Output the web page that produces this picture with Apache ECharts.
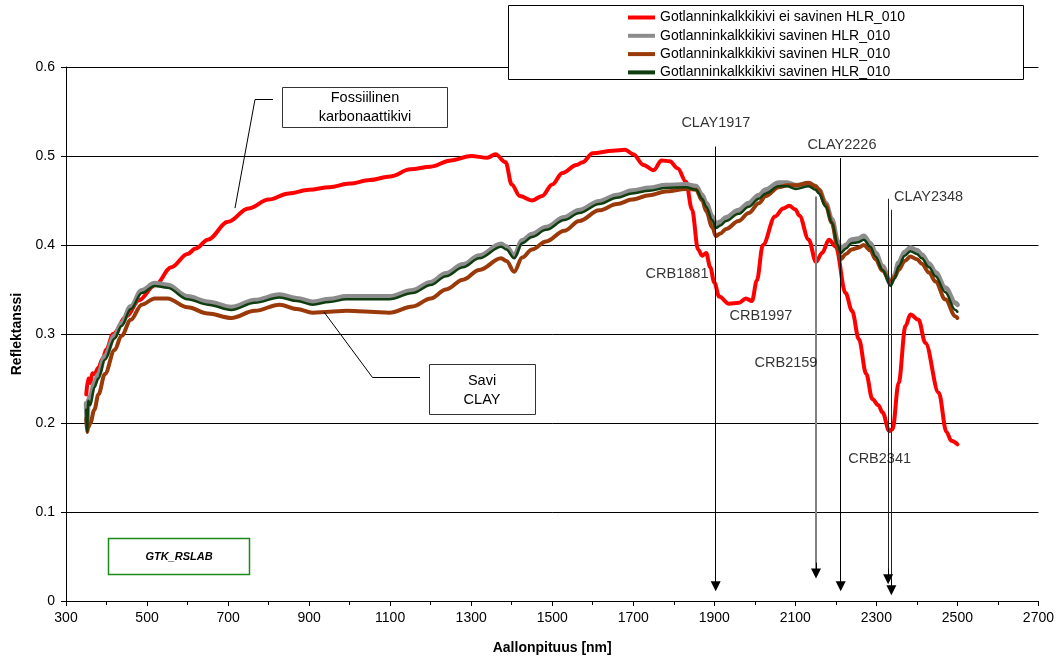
<!DOCTYPE html>
<html>
<head>
<meta charset="utf-8">
<script src="https://cdn.jsdelivr.net/npm/echarts@6/dist/echarts.min.js"></script>
<style>
html,body{margin:0;padding:0;background:#fff;}
#chart{width:1057px;height:660px;}
</style>
</head>
<body>
<div id="chart"></div>
<script>
// ---- data ----
const seriesNames = [
  'Gotlanninkalkkikivi ei savinen HLR_010',
  'Gotlanninkalkkikivi savinen HLR_010',
  'Gotlanninkalkkikivi savinen HLR_010 ',
  'Gotlanninkalkkikivi savinen HLR_010  '
];
const wavelengthRed = [350,355,360,365,370,380,390,400,416,450,480,520,560,600,620,650,700,750,800,850,900,950,1000,1050,1100,1150,1200,1250,1300,1340,1360,1385,1400,1420,1450,1475,1500,1525,1560,1575,1600,1650,1680,1700,1725,1750,1770,1790,1810,1830,1845,1860,1870,1880,1890,1900,1912,1936,1961,1978,1993,2005,2020,2050,2070,2085,2100,2110,2133,2151,2166,2183,2200,2224,2240,2257,2275,2290,2305,2315,2332,2340,2355,2372,2384,2404,2421,2454,2473,2485,2500];
const reflRed = [0.232,0.250,0.245,0.256,0.255,0.262,0.272,0.283,0.300,0.320,0.338,0.355,0.375,0.390,0.396,0.406,0.426,0.441,0.451,0.458,0.462,0.465,0.469,0.473,0.477,0.485,0.488,0.495,0.500,0.498,0.502,0.493,0.468,0.455,0.450,0.455,0.468,0.481,0.490,0.493,0.503,0.506,0.507,0.502,0.490,0.484,0.495,0.494,0.486,0.471,0.440,0.395,0.388,0.391,0.375,0.358,0.342,0.334,0.335,0.340,0.337,0.360,0.400,0.432,0.441,0.444,0.440,0.433,0.406,0.381,0.391,0.406,0.398,0.346,0.326,0.294,0.255,0.227,0.220,0.212,0.191,0.193,0.245,0.309,0.322,0.316,0.290,0.234,0.190,0.180,0.176];

const wavelengthClay = [350,352,355,360,370,380,396,420,437,460,487,519,550,600,650,708,766,827,870,909,950,992,1050,1098,1156,1200,1238,1280,1320,1374,1387,1406,1426,1450,1485,1530,1567,1616,1660,1697,1740,1780,1830,1855,1870,1880,1895,1904,1915,1929,1960,1985,2010,2027,2059,2080,2101,2133,2150,2158,2175,2190,2205,2212,2225,2239,2255,2269,2285,2298,2315,2335,2345,2355,2370,2384,2400,2412,2430,2446,2470,2495,2500];
const reflGray  = [0.222,0.200,0.225,0.230,0.245,0.255,0.275,0.298,0.312,0.331,0.349,0.357,0.355,0.342,0.336,0.330,0.338,0.344,0.340,0.336,0.339,0.342,0.342,0.342,0.349,0.358,0.368,0.378,0.388,0.401,0.398,0.388,0.405,0.412,0.420,0.431,0.439,0.449,0.456,0.461,0.464,0.467,0.468,0.466,0.456,0.447,0.432,0.423,0.426,0.431,0.439,0.447,0.456,0.462,0.470,0.470,0.467,0.469,0.466,0.462,0.447,0.429,0.404,0.395,0.400,0.406,0.407,0.410,0.402,0.391,0.376,0.357,0.366,0.380,0.392,0.397,0.394,0.389,0.379,0.369,0.352,0.335,0.333];
const reflBrown = [0.205,0.190,0.195,0.200,0.215,0.232,0.255,0.282,0.298,0.316,0.333,0.340,0.340,0.330,0.323,0.318,0.326,0.333,0.328,0.324,0.325,0.326,0.325,0.324,0.331,0.340,0.350,0.361,0.372,0.385,0.382,0.370,0.386,0.395,0.404,0.416,0.427,0.439,0.446,0.451,0.456,0.460,0.463,0.462,0.450,0.438,0.420,0.410,0.413,0.418,0.427,0.436,0.447,0.455,0.465,0.467,0.467,0.470,0.466,0.462,0.445,0.425,0.396,0.384,0.390,0.395,0.397,0.400,0.394,0.384,0.371,0.359,0.364,0.372,0.382,0.387,0.384,0.379,0.369,0.359,0.339,0.320,0.318];
const reflGreen = [0.215,0.190,0.225,0.220,0.240,0.250,0.271,0.295,0.309,0.328,0.346,0.354,0.352,0.339,0.333,0.327,0.335,0.341,0.337,0.333,0.336,0.339,0.339,0.339,0.346,0.355,0.365,0.375,0.385,0.398,0.395,0.385,0.402,0.409,0.417,0.428,0.436,0.446,0.453,0.458,0.461,0.464,0.465,0.462,0.452,0.443,0.428,0.419,0.422,0.427,0.435,0.443,0.452,0.458,0.466,0.466,0.463,0.466,0.462,0.458,0.443,0.425,0.400,0.391,0.396,0.402,0.403,0.406,0.398,0.387,0.372,0.354,0.362,0.376,0.388,0.393,0.390,0.385,0.375,0.365,0.347,0.327,0.325];

// annotation labels (wavelength, reflectance position, text)
const labelTexts = ['CLAY1917','CLAY2226','CLAY2348','CRB1881','CRB1997','CRB2159','CRB2341'];
const labelX = [1904,2215,2429,1808,2015,2077,2308];
const labelY = [0.537,0.5125,0.454,0.367,0.320,0.267,0.160];

// arrows: x (nm), top and bottom reflectance
const arrowX = [1903.5,2151,2212,2329,2337];
const arrowTop = [0.5106,0.4545,0.4976,0.452,0.4396];
const arrowBottom = [0.0165,0.031,0.0165,0.0245,0.012];
const arrowColor = ['#000','#808080','#000','#222','#222'];
const arrowWidth = [1,2,1,1,1];

const xTicks = {min:300,max:2700,interval:200};
const yTicks = {min:0,max:0.6,interval:0.1};

function pairs(xs, ys){ return xs.map((x,i)=>[x, ys[i]]); }

const FONT = '"Liberation Sans", Arial, sans-serif';
const chart = echarts.init(document.getElementById('chart'), null, {renderer:'canvas'});

const lineBase = {type:'line', showSymbol:false, symbol:'none', smooth:0.35, smoothMonotone:'x', animation:false, silent:true};

// arrow shafts, then black arrowheads drawn on top as short segments
const arrowLines = arrowX.map((x,i)=>[
  {coord:[x, arrowTop[i]], symbol:'none', lineStyle:{color:arrowColor[i], width:arrowWidth[i], type:'solid'}},
  {coord:[x, arrowBottom[i]], symbol:'none'}
]).concat(arrowX.map((x,i)=>[
  {coord:[x, arrowBottom[i] + 0.012], lineStyle:{color:'#000', width:1, type:'solid'}},
  {coord:[x, arrowBottom[i]]}
]));

const option = {
  backgroundColor:'#fff',
  animation:false,
  textStyle:{fontFamily:FONT},
  grid:{left:66, right:17, top:67, bottom:58, containLabel:false},
  xAxis:{
    type:'value', min:xTicks.min, max:xTicks.max, interval:xTicks.interval,
    name:'Aallonpituus [nm]', nameLocation:'middle', nameGap:40,
    nameTextStyle:{fontFamily:FONT, fontSize:14, fontWeight:'bold', color:'#000'},
    axisLine:{show:true, onZero:false, lineStyle:{color:'#000', width:1}},
    axisTick:{show:true, length:5, lineStyle:{color:'#000'}},
    minorTick:{show:true, splitNumber:2, length:4, lineStyle:{color:'#000'}},
    axisLabel:{color:'#000', fontFamily:FONT, fontSize:14, margin:10, formatter:v=>String(v)},
    splitLine:{show:false}
  },
  yAxis:{
    type:'value', min:yTicks.min, max:yTicks.max, interval:yTicks.interval,
    name:'Reflektanssi', nameLocation:'middle', nameGap:39,
    nameTextStyle:{fontFamily:FONT, fontSize:14, fontWeight:'bold', color:'#000'},
    axisLine:{show:true, lineStyle:{color:'#000', width:1}},
    axisTick:{show:true, length:5, lineStyle:{color:'#000'}},
    axisLabel:{color:'#000', fontFamily:FONT, fontSize:14, margin:11},
    splitLine:{show:true, lineStyle:{color:'#000', width:1}}
  },
  legend:{
    orient:'vertical', left:623, top:5.5, itemWidth:27, itemHeight:4, itemGap:4.3,
    icon:'rect', selectedMode:false, z:5,
    textStyle:{fontFamily:FONT, fontSize:14, color:'#000', lineHeight:14},
    data:seriesNames
  },
  series:[
    Object.assign({}, lineBase, {name:seriesNames[0], data:pairs(wavelengthRed, reflRed), color:'#ff0000', lineStyle:{color:'#ff0000', width:4, cap:'round', join:'round'}, z:2}),
    Object.assign({}, lineBase, {name:seriesNames[1], data:pairs(wavelengthClay, reflGray), color:'#8c8c8c', lineStyle:{color:'#8c8c8c', width:5, cap:'round', join:'round'}, z:2}),
    Object.assign({}, lineBase, {name:seriesNames[2], data:pairs(wavelengthClay, reflBrown), color:'#9a3a0a', lineStyle:{color:'#9a3a0a', width:4, cap:'round', join:'round'}, z:2}),
    Object.assign({}, lineBase, {name:seriesNames[3], data:pairs(wavelengthClay, reflGreen), color:'#0f3d0f', lineStyle:{color:'#0f3d0f', width:2.5, cap:'round', join:'round'}, z:2}),
    {
      type:'scatter', name:'labels', symbolSize:0, silent:true, animation:false, z:6,
      data: labelTexts.map((t,i)=>({value:[labelX[i], labelY[i]], name:t})),
      label:{show:true, position:'inside', formatter:p=>p.name, color:'#000', fontFamily:FONT, fontSize:14.5},
      markLine:{
        silent:true, animation:false, symbol:['none','triangle'], symbolSize:[10,10],
        label:{show:false},
        data: arrowLines
      }
    }
  ],
  graphic:[
    // legend frame
    {type:'rect', z:3, shape:{x:508.5, y:5.5, width:515, height:74}, style:{fill:'#fff', stroke:'#000', lineWidth:1}},
    // Fossiilinen callout
    {type:'polyline', z:3, shape:{points:[[273,99.5],[255,99.5],[235,208]]}, style:{stroke:'#000', lineWidth:1, fill:null}},
    {type:'rect', z:3, shape:{x:282.5, y:87.5, width:165, height:40}, style:{fill:'#fff', stroke:'#333', lineWidth:1}},
    {type:'text', z:4, style:{x:365, y:107.5, text:'Fossiilinen\nkarbonaattikivi', align:'center', verticalAlign:'middle', font:'14.5px '+FONT, fill:'#000', lineHeight:19}},
    // Savi callout
    {type:'polyline', z:3, shape:{points:[[420,377.5],[372.5,377.5],[324,312]]}, style:{stroke:'#000', lineWidth:1, fill:null}},
    {type:'rect', z:3, shape:{x:429.5, y:364.5, width:106, height:50}, style:{fill:'#fff', stroke:'#333', lineWidth:1}},
    {type:'text', z:4, style:{x:482, y:390, text:'Savi\nCLAY', align:'center', verticalAlign:'middle', font:'14.5px '+FONT, fill:'#000', lineHeight:19}},
    // GTK_RSLAB
    {type:'rect', z:3, shape:{x:108.5, y:538.5, width:141, height:36}, style:{fill:'#fff', stroke:'#1a8c1a', lineWidth:1.5}},
    {type:'text', z:4, style:{x:179, y:556.5, text:'GTK_RSLAB', align:'center', verticalAlign:'middle', font:'italic bold 11px '+FONT, fill:'#000'}}
  ]
};
chart.setOption(option);
</script>
</body>
</html>
